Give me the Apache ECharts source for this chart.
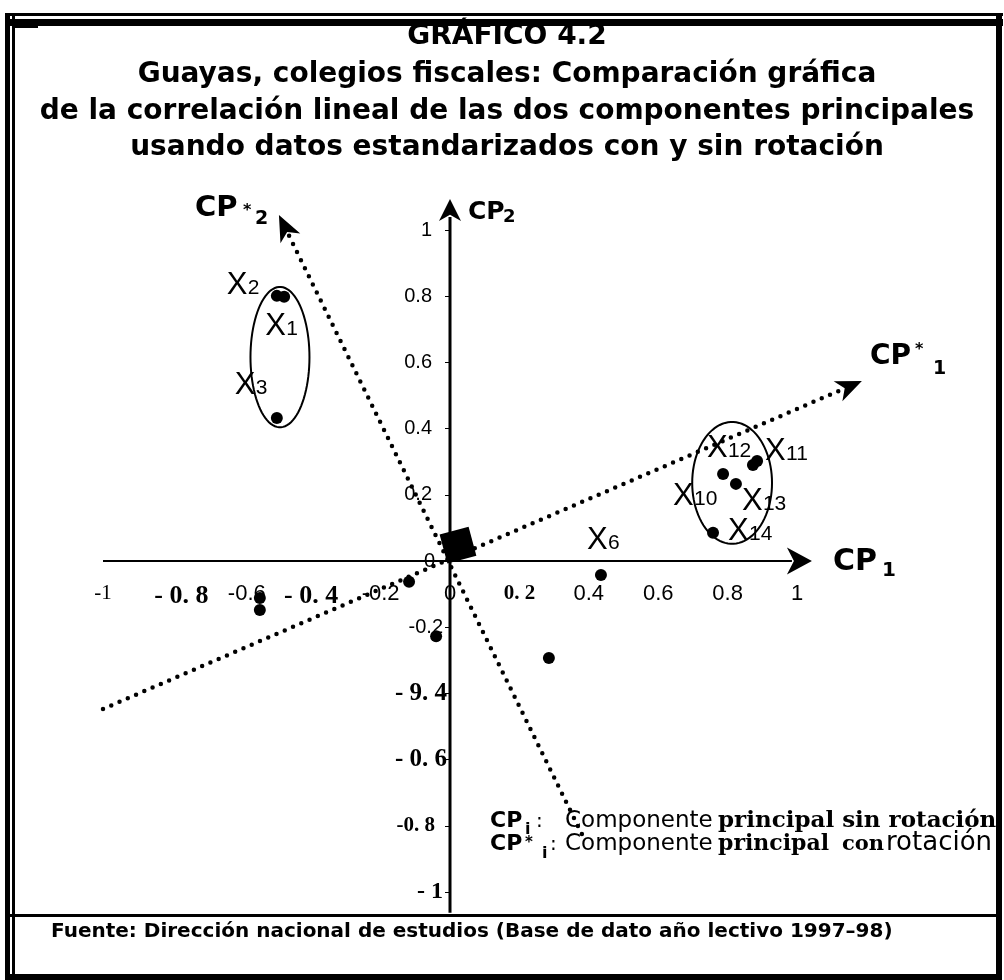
<!DOCTYPE html>
<html>
<head>
<meta charset="utf-8">
<script src="https://cdn.jsdelivr.net/npm/echarts@6/dist/echarts.min.js"></script>
<style>
html,body{margin:0;padding:0;background:#fff;}
#chart{width:1004px;height:980px;}
</style>
</head>
<body>
<div id="chart"></div>
<script>
// ---------------- DATA ----------------
const variables     = ['X1','X2','X3','X4','X5','X6','X7','X8','X9','X10','X11','X12','X13','X14'];
const cp1Loadings   = [-0.478,-0.499,-0.499,-0.548,-0.548, 0.435,-0.118,-0.040, 0.285, 0.787, 0.885, 0.873, 0.824, 0.758];
const cp2Loadings   = [ 0.798, 0.801, 0.432,-0.112,-0.148,-0.042,-0.063,-0.227,-0.293, 0.263, 0.302, 0.290, 0.233, 0.085];
const labelledVariables = ['X1','X2','X3','X6','X10','X11','X12','X13','X14'];
const centroid      = [0.023, 0.048];
const rotatedCP1    = [[-1.000,-0.447],[1.187, 0.544]];   // dotted axis CP*1: start, arrow tip
const rotatedCP2    = [[ 0.380,-0.825],[-0.493,1.045]];   // dotted axis CP*2: start, arrow tip
const clusterCenters = [[-0.490, 0.616],[0.813, 0.236]];
const clusterRadii   = [[ 0.085, 0.212],[0.115, 0.184]];
const cp1AxisExtent = [-1.000, 1.043];
const cp2AxisExtent = [-1.063, 1.094];
const xTickLabels   = ['-1','- 0. 8','-0.6','- 0. 4','-0.2','0','0. 2','0.4','0.6','0.8','1'];
const yTickLabels   = ['- 1','-0. 8','- 0. 6','- 9. 4','-0.2','0','0.2','0.4','0.6','0.8','1'];
const titleLines = [
  'GRÁFICO 4.2',
  'Guayas, colegios fiscales: Comparación gráfica',
  'de la correlación lineal de las dos componentes principales',
  'usando datos estandarizados con y sin rotación'
];
const footerText = 'Fuente: Dirección nacional de estudios (Base de dato año lectivo 1997–98)';

// ---------------- LAYOUT / STYLE ----------------
const SANS = 'Liberation Sans', DSANS = 'DejaVu Sans', SERIF = 'Liberation Serif', DSERIF = 'DejaVu Serif';
const GRID = {left:103, right:207, top:230, bottom:88};
const xLabelStyleKeys = ['sr','sb8','s6','sb','s','s','sm','s','s','s','s'];
const yLabelStyleKeys = ['yb1','ybs','yb','yb','yn','y0','yp','yp','yp','yp','yp'];
const pointLabelOffsets = { // pixel offset of label (left, baseline) from its point
  X1:[-19,40], X2:[-50,0], X3:[-42,-22], X6:[-14,-24],
  X10:[-50,33], X11:[8,1], X12:[-46,-6], X13:[6,28], X14:[15,9]
};

function txt(text, x, baseline, size, family, weight, align, z) {
  return {
    type:'text', z: z || 50,
    style:{
      text:text, x:x, y: baseline - 0.35*size,
      fontSize:size, fontFamily:family, fontWeight:weight||'normal',
      fill:'#000', textAlign:align||'left', align:align||'left',
      textVerticalAlign:'middle', verticalAlign:'middle'
    }
  };
}

function arrowHead(tip, from, L, W, notch) {
  const dx = tip[0]-from[0], dy = tip[1]-from[1], len = Math.hypot(dx,dy);
  const ux = dx/len, uy = dy/len, nx = -uy, ny = ux;
  const bx = tip[0]-ux*L, by = tip[1]-uy*L;
  return {
    type:'polygon',
    shape:{points:[[tip[0],tip[1]],[bx+nx*W/2,by+ny*W/2],[tip[0]-ux*L*notch,tip[1]-uy*L*notch],[bx-nx*W/2,by-ny*W/2]]},
    style:{fill:'#000'}
  };
}
function back(tip, from, d) {
  const dx = tip[0]-from[0], dy = tip[1]-from[1], len = Math.hypot(dx,dy);
  return [tip[0]-dx/len*d, tip[1]-dy/len*d];
}

// ---------------- render functions ----------------
function renderAxes(params, api) {
  const x0 = api.coord([cp1AxisExtent[0],0]), xt = api.coord([cp1AxisExtent[1],0]);
  const y0 = api.coord([0,cp2AxisExtent[0]]), yt = api.coord([0,cp2AxisExtent[1]]);
  const xb = back(xt, x0, 20), yb = back(yt, y0, 18);
  return {type:'group', children:[
    {type:'line', shape:{x1:x0[0],y1:x0[1],x2:xb[0],y2:xb[1]}, style:{stroke:'#000',lineWidth:2}},
    {type:'line', shape:{x1:y0[0],y1:y0[1],x2:yb[0],y2:yb[1]}, style:{stroke:'#000',lineWidth:3}},
    arrowHead(xt, x0, 25, 27, 0.72),
    arrowHead(yt, y0, 22, 22, 0.72),
    txt('CP', xt[0]+21, xt[1]+12, 30, DSANS, 'bold'),
    txt('1',  xt[0]+70, xt[1]+17, 20, DSANS, 'bold'),
    txt('CP', yt[0]+18, yt[1]+22, 25, DSANS, 'bold'),
    txt('2',  yt[0]+53, yt[1]+25, 18, DSANS, 'bold')
  ]};
}

function renderRotated(params, api) {
  const i = params.dataIndex;
  const axis = i === 0 ? rotatedCP1 : rotatedCP2;
  const s = api.coord(axis[0]), t = api.coord(axis[1]);
  const e = back(t, s, 20);
  const children = [
    {type:'line', shape:{x1:s[0],y1:s[1],x2:e[0],y2:e[1]},
     style:{stroke:'#000',lineWidth:4.5,lineDash:[0,9],lineCap:'round',fill:null}},
    arrowHead(t, s, 26, 22, 0.72)
  ];
  if (i === 0) {
    children.push(txt('CP', t[0]+8,  t[1]-14, 28, DSANS, 'bold'));
    children.push(txt('*',  t[0]+53, t[1]-25, 16, DSANS, 'bold'));
    children.push(txt('1',  t[0]+71, t[1]-5,  19, DSANS, 'bold'));
  } else {
    children.push(txt('CP', t[0]-84, t[1]+4,  29, DSANS, 'bold'));
    children.push(txt('*',  t[0]-36, t[1]+1,  16, DSANS, 'bold'));
    children.push(txt('2',  t[0]-24, t[1]+11, 19, DSANS, 'bold'));
  }
  return {type:'group', children:children};
}

function renderEllipse(params, api) {
  const c = clusterCenters[params.dataIndex], r = clusterRadii[params.dataIndex];
  const pts = [];
  for (let k = 0; k < 90; k++) {
    const a = k/90*Math.PI*2;
    pts.push(api.coord([c[0]+r[0]*Math.cos(a), c[1]+r[1]*Math.sin(a)]));
  }
  return {type:'polygon', shape:{points:pts}, style:{fill:'none',stroke:'#000',lineWidth:2}};
}

function renderPointLabel(params, api) {
  const name = labelledVariables[params.dataIndex];
  const i = variables.indexOf(name);
  const p = api.coord([cp1Loadings[i], cp2Loadings[i]]);
  const off = pointLabelOffsets[name];
  const L = p[0]+off[0], B = p[1]+off[1];
  return {type:'group', children:[
    txt('X', L, B, 31, SANS, 'normal'),
    txt(name.slice(1), L+21, B, 21, SANS, 'normal')
  ]};
}

// ---------------- static texts & frame ----------------
const graphics = [];
titleLines.forEach((t, k) => graphics.push(txt(t, 507, [47,85,122,158][k], 28, DSANS, 'bold', 'center')));
// legend
graphics.push(txt('CP', 490, 829, 22, DSANS, 'bold'));
graphics.push(txt('i', 525, 835, 16, DSANS, 'bold'));
graphics.push(txt(':', 536, 829, 20, DSANS, 'normal'));
graphics.push(txt('Componente', 565, 829, 23, DSANS, 'normal'));
graphics.push(txt('principal sin rotación', 718, 829, 23, DSERIF, 'bold'));
graphics.push(txt('CP', 490, 852, 22, DSANS, 'bold'));
graphics.push(txt('*', 525, 848, 15, DSANS, 'bold'));
graphics.push(txt('i', 542, 859, 16, DSANS, 'bold'));
graphics.push(txt(':', 550, 852, 20, DSANS, 'normal'));
graphics.push(txt('Componente', 565, 852, 23, DSANS, 'normal'));
graphics.push(txt('principal', 718, 852, 22, DSERIF, 'bold'));
graphics.push(txt('con', 842, 852, 21, DSERIF, 'bold'));
graphics.push(txt('rotación', 886, 852, 26, DSANS, 'normal'));
// footer
graphics.push(txt(footerText, 51, 939, 20, DSANS, 'bold'));
// frame
function box(x, y, w, h) { return {type:'rect', z:100, shape:{x:x,y:y,width:w,height:h}, style:{fill:'#000'}}; }
graphics.push(box(6, 13, 997, 3));
graphics.push(box(6, 19, 997, 7));
graphics.push(box(5, 13, 5, 967));
graphics.push(box(12, 13, 3, 967));
graphics.push(box(996, 13, 6, 967));
graphics.push(box(5, 974, 997, 6));
graphics.push(box(5, 914, 997, 3));
graphics.push(box(14, 26, 24, 2));

// ---------------- chart ----------------
const chart = echarts.init(document.getElementById('chart'), null, {renderer:'canvas'});
const sansLbl = (size, weight, pad) => ({fontFamily:SANS, fontSize:size, fontWeight:weight||'normal', color:'#000', padding:pad||0});
const serifLbl = (size, weight, pad) => ({fontFamily:SERIF, fontSize:size, fontWeight:weight||'normal', color:'#000', padding:pad||0});

// axis offsets so that the axes cross at (0, 0) inside the grid
const plotW = 1004 - GRID.left - GRID.right, plotH = 980 - GRID.top - GRID.bottom;
const xAxisOffset = -plotH / 2;   // move x axis up to value 0
const yAxisOffset = -plotW / 2;   // move y axis right to value 0

chart.setOption({
  animation:false,
  backgroundColor:'#fff',
  grid:{left:GRID.left, right:GRID.right, top:GRID.top, bottom:GRID.bottom, containLabel:false},
  xAxis:{
    type:'value', min:-1, max:1, interval:0.2, position:'bottom', offset:xAxisOffset,
    axisLine:{show:false, onZero:false},
    axisTick:{show:false}, splitLine:{show:false},
    axisLabel:{
      margin:22,
      formatter:(v) => { const i = Math.round((v+1)/0.2); return '{' + xLabelStyleKeys[i] + '|' + xTickLabels[i] + '}'; },
      rich:{
        s:sansLbl(22), s6:sansLbl(22,'normal',[0,0,0,10]),
        sb:serifLbl(26,'bold'), sb8:serifLbl(26,'bold',[0,0,0,18]),
        sr:serifLbl(21), sm:serifLbl(21,'bold')
      }
    }
  },
  yAxis:{
    type:'value', min:-1, max:1, interval:0.2, position:'left', offset:yAxisOffset,
    axisLine:{show:false, onZero:false},
    axisTick:{show:true, length:5, lineStyle:{color:'#000', width:1}},
    splitLine:{show:false},
    axisLabel:{
      margin:3,
      formatter:(v) => { const i = Math.round((v+1)/0.2); return '{' + yLabelStyleKeys[i] + '|' + yTickLabels[i] + '}'; },
      rich:{
        yp:sansLbl(20,'normal',[0,15,0,0]),
        y0:sansLbl(20,'normal',[0,12,0,0]),
        yn:sansLbl(20,'normal',[0,4,0,0]),
        yb:serifLbl(25,'bold',[0,0,0,0]),
        ybs:serifLbl(21,'bold',[0,12,0,0]),
        yb1:serifLbl(24,'bold',[0,4,0,0])
      }
    }
  },
  graphic:{elements:graphics},
  series:[
    {type:'custom', name:'axes', z:3, renderItem:renderAxes, data:[[0,0]], clip:false, silent:true},
    {type:'custom', name:'rotated', z:2, renderItem:renderRotated, data:[rotatedCP1[0], rotatedCP2[0]], clip:false, silent:true},
    {type:'custom', name:'clusters', z:2, renderItem:renderEllipse, data:clusterCenters, clip:false, silent:true},
    {type:'scatter', name:'variables', z:4, symbol:'circle', symbolSize:12,
     itemStyle:{color:'#000', opacity:1},
     data: variables.map((n,i) => ({name:n, value:[cp1Loadings[i], cp2Loadings[i]]}))},
    {type:'scatter', name:'centroid', z:5, symbol:'rect', symbolSize:30, symbolRotate:15,
     itemStyle:{color:'#000', opacity:1}, data:[centroid]},
    {type:'custom', name:'labels', z:6, renderItem:renderPointLabel,
     data: labelledVariables.map(n => { const i = variables.indexOf(n); return [cp1Loadings[i], cp2Loadings[i]]; }),
     clip:false, silent:true}
  ]
});
</script>
</body>
</html>
